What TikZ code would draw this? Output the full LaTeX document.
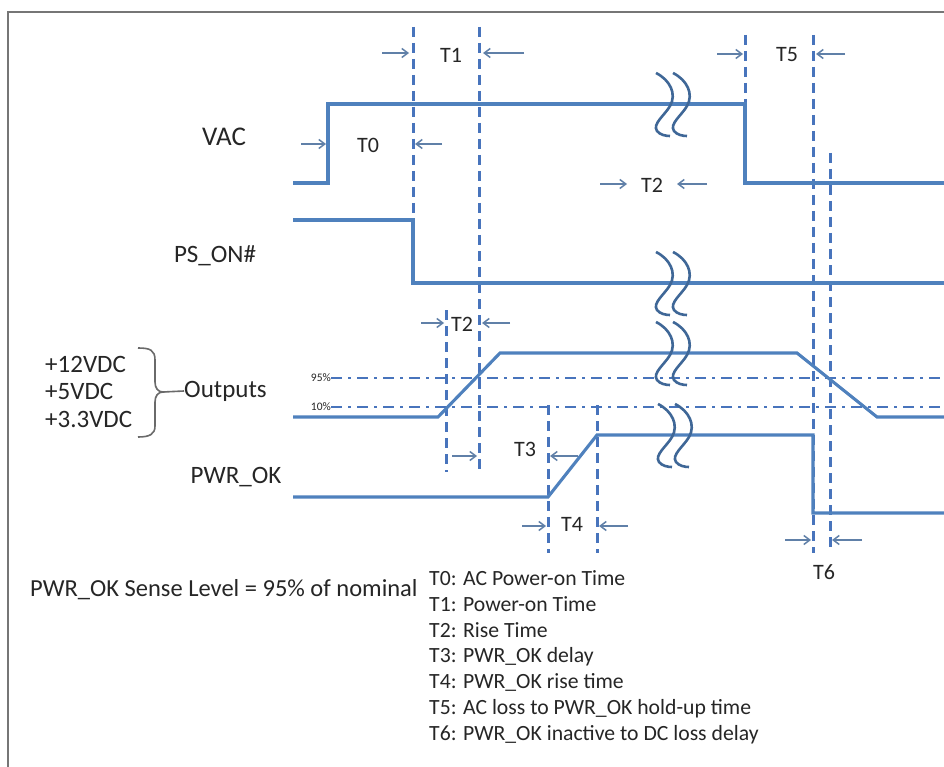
\documentclass[tikz,border=0pt]{standalone}
\usepackage{fontspec}
\setmainfont{Carlito}
\usetikzlibrary{arrows.meta}
\definecolor{sigblue}{RGB}{79,129,189}
\definecolor{dashblue}{RGB}{72,116,188}
\definecolor{arrblue}{RGB}{96,128,168}
\definecolor{txt}{RGB}{38,38,38}
\definecolor{framegray}{RGB}{118,118,118}
\tikzset{
  sig/.style={draw=sigblue, line width=3.1pt, line join=miter},
  vdash/.style={draw=dashblue, line width=3pt, dash pattern=on 10pt off 6pt},
  dashdot/.style={draw=dashblue, line width=2.8pt, dash pattern=on 11pt off 6pt on 3pt off 6pt},
  tarrow/.style={draw=arrblue, line width=1.5pt, -{Straight Barb[length=6pt,width=9pt,line width=1.5pt]}},
  lbl/.style={text=txt, inner sep=0pt, font=\fontsize{25}{29}\selectfont},
  tlbl/.style={text=txt, inner sep=0pt, font=\fontsize{22}{26}\selectfont},
  leg/.style={text=txt, inner sep=0pt, anchor=west, font=\fontsize{21.7}{25}\selectfont},
  pct/.style={text=txt, inner sep=0pt, anchor=east, font=\fontsize{11.5}{13}\selectfont},
  brkcurve/.style={draw=sigblue!80!black, line width=2.6pt},
  brk/.pic={
    \foreach \dx in {0,17}{
      \draw[brkcurve] (-10+\dx,-31) .. controls (4+\dx,-24) and (11+\dx,-10) .. (4+\dx,2)
        .. controls (-1+\dx,11) and (-14+\dx,20) .. (-9+\dx,27)
        .. controls (-6+\dx,31) and (0+\dx,32) .. (4+\dx,32);
    }
  }
}
\begin{document}
\begin{tikzpicture}[x=1pt,y=-1pt]
\useasboundingbox (0,0) rectangle (944,767);
\fill[white] (0,0) rectangle (944,767);
% frame
\draw[framegray, line width=2pt] (8,767) -- (8,12) -- (944,12);

% ---- dashed verticals
\draw[vdash] (413,27) -- (413,283);
\draw[vdash] (479,27) -- (479,472);
\draw[vdash] (446,310) -- (446,472);
\draw[vdash] (548,405) -- (548,553);
\draw[vdash] (597,405) -- (597,553);
\draw[vdash] (745,35) -- (745,103);
\draw[vdash] (813,35) -- (813,553);
\draw[vdash] (830,153) -- (830,553);

% ---- 95% / 10% levels
\node[pct] (p95) at (331,378) {95\%};
\node[pct] (p10) at (331,407) {10\%};
\draw[dashdot] (p95.east) -- (944,378);
\draw[dashdot] (p10.east) -- (944,407);

% ---- signals
\coordinate (vac0) at (293,183);
\draw[sig] (vac0) -- (328,183) -- (328,104) -- (745,104) -- (745,183) -- (944,183);
\coordinate (pso0) at (293,220);
\draw[sig] (pso0) -- (413,220) -- (413,283) -- (944,283);
\coordinate (out0) at (293,417);
\draw[sig] (out0) -- (438,417) -- (500,353) -- (797,353) -- (877,417) -- (944,417);
\coordinate (pok0) at (293,497);
\draw[sig] (pok0) -- (548,497) -- (597,435) -- (813,435) -- (813,513) -- (944,513);

% ---- break marks
\pic at (666,104) {brk};
\pic at (666,283) {brk};
\pic at (666,353) {brk};
\pic at (668,435) {brk};

% ---- signal names
\node[lbl, font=\fontsize{27}{30}\selectfont] (nvac) at (224,137) {VAC};
\node[lbl] (npso) at (215,256) {PS\_ON\#};
\node[lbl] (npok) at (236,477) {PWR\_OK};
\node[lbl, anchor=west] (v12) at (45,364) {+12VDC};
\node[lbl, anchor=west] (v5) at (45,391) {+5VDC};
\node[lbl, anchor=west] (v33) at (45,419) {+3.3VDC};
\node[lbl, anchor=west] (nout) at (184,391) {Outputs};
\coordinate (btip) at (163,392);
\draw[framegray!90!black, line width=1.6pt]
  (138,348) .. controls (150,348) and (155,350) .. (155,360) -- (155,382)
  .. controls (155,388) and (158,392) .. (btip)
  .. controls (158,392) and (155,396) .. (155,402) -- (155,426)
  .. controls (155,434) and (150,437) .. (138,437);
\draw[framegray!90!black, line width=1.6pt] (btip) -- (nout.west);

% ---- timing labels and arrows
\node[tlbl] (t1) at (451,55) {T1};
\coordinate (t1a) at (382,53); \coordinate (t1b) at (409,53);
\coordinate (t1c) at (524,53); \coordinate (t1d) at (483,53);
\draw[tarrow] (t1a) -- (t1b);
\draw[tarrow] (t1c) -- (t1d);

\node[tlbl] (t0) at (368,145) {T0};
\coordinate (t0a) at (301,144); \coordinate (t0b) at (326,144);
\coordinate (t0c) at (442,144); \coordinate (t0d) at (415,144);
\draw[tarrow] (t0a) -- (t0b);
\draw[tarrow] (t0c) -- (t0d);

\node[tlbl] (t5) at (787,55) {T5};
\coordinate (t5a) at (717,54); \coordinate (t5b) at (743,54);
\coordinate (t5c) at (845,54); \coordinate (t5d) at (816,54);
\draw[tarrow] (t5a) -- (t5b);
\draw[tarrow] (t5c) -- (t5d);

\node[tlbl] (t2m) at (652,185) {T2};
\coordinate (t2ma) at (600,184); \coordinate (t2mb) at (627,184);
\coordinate (t2mc) at (707,184); \coordinate (t2md) at (677,184);
\draw[tarrow] (t2ma) -- (t2mb);
\draw[tarrow] (t2mc) -- (t2md);

\node[tlbl] (t2) at (462,324) {T2};
\coordinate (t2a) at (421,323); \coordinate (t2b) at (444,323);
\coordinate (t2c) at (510,323); \coordinate (t2d) at (482,323);
\draw[tarrow] (t2a) -- (t2b);
\draw[tarrow] (t2c) -- (t2d);
\coordinate (t2e) at (452,456); \coordinate (t2f) at (477,456);
\draw[tarrow] (t2e) -- (t2f);

\node[tlbl] (t3) at (525,449) {T3};
\coordinate (t3a) at (578,456); \coordinate (t3b) at (550,456);
\draw[tarrow] (t3a) -- (t3b);

\node[tlbl] (t4) at (572,524) {T4};
\coordinate (t4a) at (522,526); \coordinate (t4b) at (546,526);
\coordinate (t4c) at (628,526); \coordinate (t4d) at (599,526);
\draw[tarrow] (t4a) -- (t4b);
\draw[tarrow] (t4c) -- (t4d);

\node[tlbl] (t6) at (824,572) {T6};
\coordinate (t6a) at (785,540); \coordinate (t6b) at (811,540);
\coordinate (t6c) at (862,540); \coordinate (t6d) at (832,540);
\draw[tarrow] (t6a) -- (t6b);
\draw[tarrow] (t6c) -- (t6d);

% ---- legend
\node[text=txt, inner sep=0pt, anchor=west, font=\fontsize{24.5}{28}\selectfont] (sense) at (30,590) {PWR\_OK Sense Level = 95\% of nominal};
\node[leg] (l0) at (429,578) {T0: AC Power-on Time};
\node[leg] (l1) at (429,604.2) {T1: Power-on Time};
\node[leg] (l2) at (429,630.4) {T2: Rise Time};
\node[leg] (l3) at (429,656.6) {T3: PWR\_OK delay};
\node[leg] (l4) at (429,682.8) {T4: PWR\_OK rise time};
\node[leg] (l5) at (429,709) {T5: AC loss to PWR\_OK hold-up time};
\node[leg] (l6) at (429,735.2) {T6: PWR\_OK inactive to DC loss delay};
\end{tikzpicture}
\end{document}
